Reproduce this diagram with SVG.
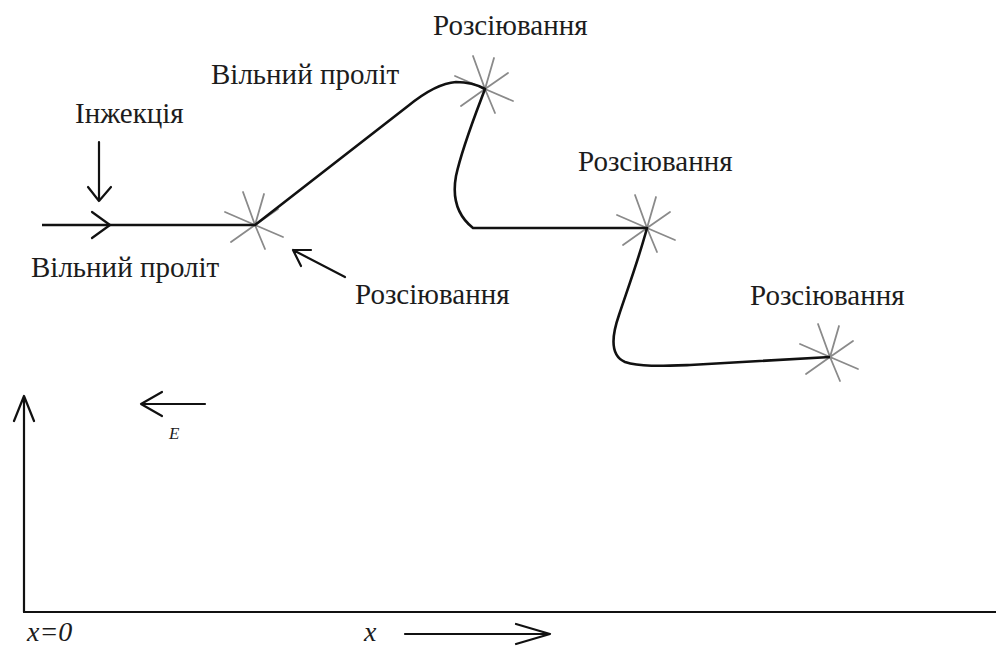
<svg xmlns="http://www.w3.org/2000/svg" xmlns:xlink="http://www.w3.org/1999/xlink" width="996" height="648" viewBox="0 0 996 648">
<style>
.lbl{font-family:'Liberation Serif','Times New Roman',Tinos,'Noto Serif','DejaVu Serif',serif;font-size:29px;fill:#1c1c1c}
.it{font-family:'Liberation Serif','Times New Roman',Tinos,'Noto Serif','DejaVu Serif',serif;font-style:italic;fill:#1c1c1c}
.ray{stroke:#8a8a8a;stroke-width:1.8;fill:none;stroke-linecap:round}
.trk{stroke:#111;stroke-width:2.6;fill:none;stroke-linejoin:round}
.ln{stroke:#111;stroke-width:2.2;fill:none;stroke-linecap:round;stroke-linejoin:round}
</style>
<defs>
<g id="star">
<path class="ray" d="M0,0 L-12,-33 M0,0 L9,-31 M0,0 L23,-16 M0,0 L28,12 M0,0 L10,24 M0,0 L-24,17 M0,0 L-30,-13"/>
</g>
</defs>
<rect width="996" height="648" fill="#fff"/>

<g id="scatter1"><use xlink:href="#star" x="255" y="225"/></g>
<g id="scatter2"><use xlink:href="#star" x="485" y="89"/></g>
<g id="scatter3"><use xlink:href="#star" x="647" y="228"/></g>
<g id="scatter4"><use xlink:href="#star" x="830" y="357"/></g>

<g id="connectors">
<path class="trk" d="M42,225 L255,225 L408,106 C424,93 440,83 456,82 C468,82 478,85 485,89 C474,118 462,148 456,176 C452,198 458,216 473,228 L647,228 C639,258 628,288 619,315 C611,338 611,356 625,362 C640,367 662,366 690,365 L830,357"/>
<path class="ln" d="M92,212 L110,225 L92,238"/>
<path class="ln" d="M99,142 L99,201 M88,187 L99,201 L111,187"/>
<path class="ln" d="M345,277 L293,250 M301,266 L293,250 L311,250"/>
<path class="ln" d="M205,404 L141,404 M162,392 L141,404 L162,416"/>
<path class="ln" d="M24,612 L24,396 M14,421 L24,396 L34,421"/>
<path class="ln" d="M24,612 L996,612"/>
<path class="ln" d="M405,634 L550,634 M516,624 L550,634 L516,644"/>
</g>

<g id="label-injection"><text class="lbl" x="75" y="123">Інжекція</text></g>
<g id="label-free1"><text class="lbl" x="31" y="277">Вільний проліт</text></g>
<g id="label-free2"><text class="lbl" x="211" y="84">Вільний проліт</text></g>
<g id="label-scat1"><text class="lbl" x="355" y="304">Розсіювання</text></g>
<g id="label-scat2"><text class="lbl" x="433" y="35">Розсіювання</text></g>
<g id="label-scat3"><text class="lbl" x="578" y="171">Розсіювання</text></g>
<g id="label-scat4"><text class="lbl" x="750" y="305">Розсіювання</text></g>
<g id="label-E"><text class="it" x="169" y="439" font-size="17">E</text></g>
<g id="label-x0"><text class="it" x="27" y="641" font-size="28">x=0</text></g>
<g id="label-x"><text class="it" x="364" y="641" font-size="28">x</text></g>
</svg>
